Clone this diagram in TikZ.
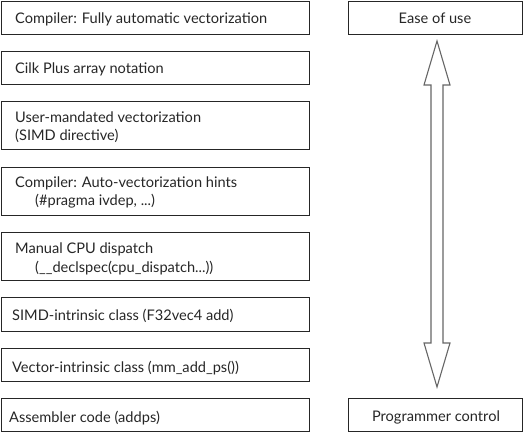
\documentclass[tikz,border=0pt]{standalone}
\usepackage{fontspec}
\setmainfont{Lato}
\begin{document}
\begin{tikzpicture}[x=1pt,y=-1pt,
  box/.style={draw=black!85,line width=1.1pt,rectangle,inner sep=0pt,anchor=north west},
  txt/.style={anchor=base west,inner sep=0pt,font=\fontsize{14.6}{17}\selectfont,text=black!85},
  ctxt/.style={anchor=base,inner sep=0pt,font=\fontsize{14.6}{17}\selectfont,text=black!85}]
\useasboundingbox (0,0) rectangle (523,432);
% left boxes
\node[box,minimum width=308pt,minimum height=33pt] (b1) at (1,1) {};
\node[box,minimum width=308pt,minimum height=33pt] (b2) at (1,51) {};
\node[box,minimum width=308pt,minimum height=48pt] (b3) at (1,101) {};
\node[box,minimum width=308pt,minimum height=48pt] (b4) at (1,167) {};
\node[box,minimum width=308pt,minimum height=48pt] (b5) at (1,232) {};
\node[box,minimum width=308pt,minimum height=34pt] (b6) at (1,297) {};
\node[box,minimum width=308pt,minimum height=33pt] (b7) at (1,348) {};
\node[box,minimum width=308pt,minimum height=33pt] (b8) at (1,398) {};
% texts
\node[txt] (t1) at (15,23) {Compiler: Fully automatic vectorization};
\node[txt] (t2) at (15,73) {Cilk Plus array notation};
\node[txt] (t3a) at (15,122) {User-mandated vectorization};
\node[txt] (t3b) at (15,140) {(SIMD directive)};
\node[txt] (t4a) at (15,187) {Compiler: Auto-vectorization hints};
\node[txt] (t4b) at (35,205) {(\#pragma ivdep, ...)};
\node[txt] (t5a) at (15,253) {Manual CPU dispatch};
\node[txt] (t5b) at (35,272) {(\_\_declspec(cpu\_dispatch...))};
\node[txt] (t6) at (12,320) {SIMD-intrinsic class (F32vec4 add)};
\node[txt] (t7) at (12,372) {Vector-intrinsic class (mm\_add\_ps())};
\node[txt] (t8) at (9,422) {Assembler code (addps)};
% right boxes
\node[box,minimum width=174pt,minimum height=33pt] (ease) at (348,1) {};
\node[ctxt] at (435,23) {Ease of use};
\node[box,minimum width=174pt,minimum height=33pt] (prog) at (348,398) {};
\node[ctxt] at (436,421) {Programmer control};
% double arrow
\draw[black!60,line width=1.1pt,line join=miter]
  (437,41) -- (450,85) -- (443,85) -- (443,343) -- (450,343) -- (437,387)
  -- (424,343) -- (431,343) -- (431,85) -- (424,85) -- cycle;
\end{tikzpicture}
\end{document}
